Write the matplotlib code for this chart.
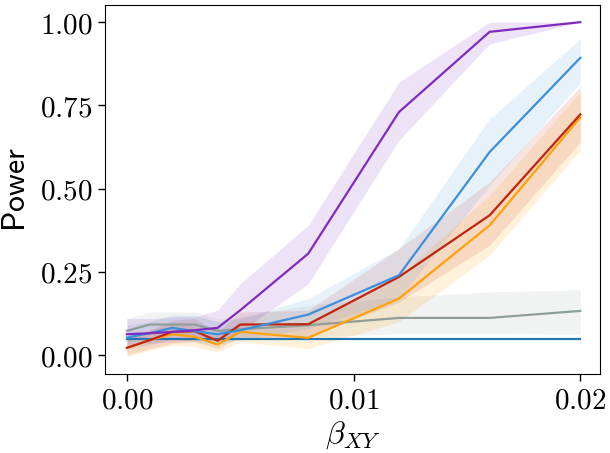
import numpy as np
import matplotlib
matplotlib.use("Agg")
import matplotlib.pyplot as plt
from matplotlib.ticker import FuncFormatter

plt.rcParams["mathtext.fontset"] = "cm"

# ###########################################################
# Data
# ###########################################################

beta = [0.0, 0.001, 0.002, 0.003, 0.004, 0.005, 0.008, 0.012, 0.016, 0.02]

power_darkblue = [0.05, 0.05, 0.05, 0.05, 0.05, 0.05, 0.05, 0.05, 0.05, 0.05]

power_gray = [0.073, 0.092, 0.092, 0.092, 0.073, 0.078, 0.090, 0.112, 0.112, 0.133]
low_gray = [0.040, 0.060, 0.060, 0.060, 0.045, 0.050, 0.055, 0.065, 0.065, 0.063]
up_gray = [0.110, 0.130, 0.130, 0.130, 0.110, 0.115, 0.150, 0.175, 0.190, 0.197]

power_orange = [0.022, 0.045, 0.063, 0.055, 0.032, 0.070, 0.052, 0.170, 0.390, 0.714]
low_orange = [-0.005, 0.015, 0.030, 0.025, 0.010, 0.040, 0.020, 0.100, 0.300, 0.615]
up_orange = [0.050, 0.075, 0.095, 0.085, 0.060, 0.100, 0.090, 0.240, 0.480, 0.790]

power_red = [0.022, 0.045, 0.070, 0.072, 0.043, 0.092, 0.093, 0.235, 0.420, 0.723]
low_red = [0.000, 0.020, 0.035, 0.040, 0.020, 0.055, 0.055, 0.160, 0.330, 0.640]
up_red = [0.050, 0.075, 0.105, 0.110, 0.070, 0.130, 0.135, 0.320, 0.520, 0.806]

power_blue = [0.053, 0.066, 0.082, 0.072, 0.063, 0.075, 0.122, 0.240, 0.610, 0.893]
low_blue = [0.020, 0.030, 0.050, 0.040, 0.035, 0.045, 0.080, 0.170, 0.510, 0.818]
up_blue = [0.090, 0.100, 0.120, 0.120, 0.100, 0.110, 0.170, 0.320, 0.710, 0.950]

power_purple = [0.063, 0.066, 0.070, 0.075, 0.082, 0.135, 0.305, 0.730, 0.971, 1.000]
low_purple = [0.030, 0.035, 0.040, 0.045, 0.045, 0.070, 0.215, 0.645, 0.935, 1.000]
up_purple = [0.110, 0.110, 0.115, 0.115, 0.135, 0.215, 0.390, 0.820, 1.000, 1.000]

xticks = [0.0, 0.01, 0.02]
yticks = [0.0, 0.25, 0.5, 0.75, 1.0]

# ###########################################################
# Plot
# ###########################################################

fig = plt.figure(figsize=(6.1, 4.53), dpi=100)
ax = fig.add_axes([0.172, 0.174, 0.812, 0.816])

series = [
    (power_darkblue, None, None, "#1f77b4", 0.0),
    (power_gray, low_gray, up_gray, "#8e9e98", 0.12),
    (power_orange, low_orange, up_orange, "#ffa20a", 0.15),
    (power_red, low_red, up_red, "#c0250c", 0.12),
    (power_blue, low_blue, up_blue, "#3b8fdb", 0.12),
    (power_purple, low_purple, up_purple, "#7f2bbd", 0.13),
]

for (y, lo, up, col, alpha) in series:
    if lo is not None:
        ax.fill_between(beta, lo, up, color=col, alpha=alpha, lw=0)
    ax.plot(beta, y, color=col, lw=1.6)

ax.set_xlim(-0.00097, 0.02088)
ax.set_ylim(-0.057, 1.053)
ax.set_xticks(xticks)
ax.set_yticks(yticks)
ax.xaxis.set_major_formatter(FuncFormatter(lambda v, p: "$%.2f$" % v))
ax.yaxis.set_major_formatter(FuncFormatter(lambda v, p: "$%.2f$" % v))
ax.tick_params(labelsize=21, length=5, width=1, pad=4)

ax.set_xlabel(r"$\beta_{XY}$", fontsize=23)
ax.xaxis.set_label_coords(0.5, -0.122)
ax.xaxis.label.set_va("top")
ax.set_ylabel(r"$\mathsf{Power}$", fontsize=23)
ax.yaxis.set_label_coords(-0.148, 0.5)

fig.savefig("out.png", dpi=100)
